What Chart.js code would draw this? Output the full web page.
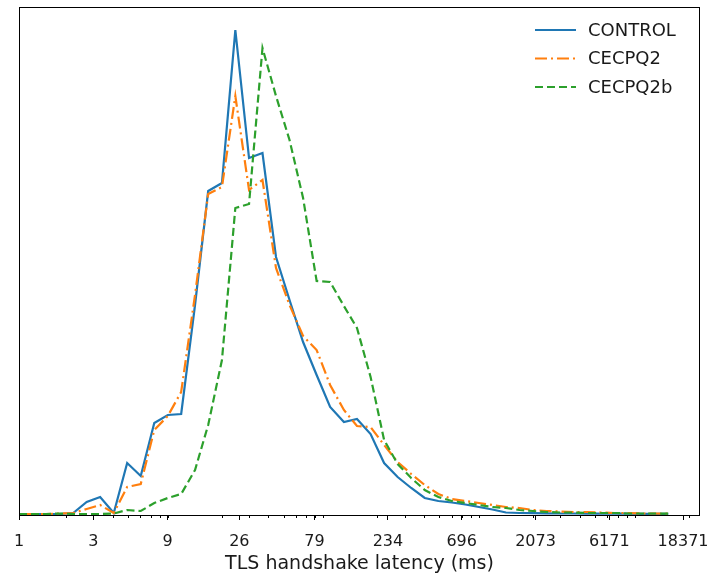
<!DOCTYPE html>
<html>
<head>
<meta charset="utf-8">
<script src="https://cdn.jsdelivr.net/npm/chart.js@4.4.1/dist/chart.umd.min.js"></script>
<style>
  html, body { margin: 0; padding: 0; background: #fff; }
  #wrap { width: 714px; height: 577px; }
</style>
</head>
<body>
<div id="wrap"><canvas id="latency-chart"></canvas></div>
<script>
// Histogram bin centres (ms), log-spaced
const binCentres = [1.00, 1.22, 1.49, 1.82, 2.23, 2.72, 3.32, 4.06, 4.95, 6.05,
    7.39, 9.03, 11.0, 13.5, 16.4, 20.1, 24.5, 30.0, 36.6, 44.7,
    54.6, 66.7, 81.5, 99.5, 122, 148, 181, 221, 270, 330,
    403, 493, 602, 735, 898, 1097, 1339, 1636, 1998, 2441,
    2981, 3641, 4447, 5432, 6634, 8103, 9897, 12088, 14765];

// Relative frequency per bin (arbitrary units)
const control = [0, 0, 0, 0, 1, 12, 17, 1, 51, 38,
    91, 99, 100, 209, 323, 331, 484, 356, 361, 257,
    214, 172, 139, 107, 92, 95, 80, 51, 37, 26,
    16, 13, 11.5, 9.5, 7, 4.5, 1.5, 1, 0.8, 0.6,
    0.5, 0.5, 0.4, 0.4, 0.3, 0.3, 0.2, 0.2, 0.1];

const cecpq2 = [0, 0, 0, 0.5, 1, 5, 9, 1, 27, 30,
    84, 98, 122, 219, 320, 327, 418, 324, 334, 246,
    209, 178, 164, 129, 104, 88, 87, 69, 52, 40,
    29, 20, 15, 13, 11, 9, 7, 6, 4, 3,
    2.5, 2, 2, 1.5, 1, 1, 0.5, 0.5, 0.3];

const cecpq2b = [0, 0, 0, 0.5, 0, 0, 0, 0.5, 4, 3,
    11, 16, 20, 44, 89, 154, 306, 310, 466, 418,
    374, 316, 233, 232, 208, 186, 137, 74, 50, 36,
    24, 17, 13, 11, 9, 7, 6, 4, 3, 2,
    1.5, 1.5, 1, 1, 1, 0.5, 0.5, 0.5, 0.3];

const tickValues = [1, 3, 9, 26, 79, 234, 696, 2073, 6171, 18371];

const FONT = "'DejaVu Sans', 'Liberation Sans', sans-serif";
const TEXT = '#1a1a1a';

Chart.defaults.font.family = FONT;
Chart.defaults.color = TEXT;

function toPoints(values) {
    return values.map((v, i) => ({ x: binCentres[i], y: v }));
}

// frame, minor ticks and the in-plot legend (matplotlib style)
const mplDecor = {
    id: 'mplDecor',
    afterDraw(chart) {
        const { ctx, chartArea: a, scales: { x } } = chart;
        ctx.save();

        // minor ticks at 2..9 x 10^n
        ctx.strokeStyle = '#000';
        ctx.lineWidth = 1;
        ctx.beginPath();
        for (let p = 1; p <= 10000; p *= 10) {
            for (let m = 2; m <= 9; m++) {
                const v = m * p;
                if (v > x.max) continue;
                const px = Math.round(x.getPixelForValue(v)) + 0.5;
                ctx.moveTo(px, a.bottom);
                ctx.lineTo(px, a.bottom + 3);
            }
        }
        ctx.stroke();

        // spines
        ctx.strokeRect(Math.round(a.left) + 0.5, Math.round(a.top) + 0.5,
            Math.round(a.right - a.left) - 1, Math.round(a.bottom - a.top));

        // legend
        const x0 = a.right - 165, x1 = x0 + 41, tx = x1 + 12;
        ctx.font = '18px ' + FONT;
        ctx.textBaseline = 'middle';
        chart.data.datasets.forEach((ds, i) => {
            const y = a.top + 23 + i * 28.5;
            ctx.strokeStyle = ds.borderColor;
            ctx.lineWidth = ds.borderWidth;
            ctx.setLineDash(ds.borderDash || []);
            ctx.beginPath();
            ctx.moveTo(x0, y);
            ctx.lineTo(x1, y);
            ctx.stroke();
            ctx.setLineDash([]);
            ctx.fillStyle = TEXT;
            ctx.fillText(ds.label, tx, y + 1);
        });
        ctx.restore();
    }
};

new Chart(document.getElementById('latency-chart'), {
    type: 'line',
    data: {
        datasets: [{
            label: 'CONTROL',
            data: toPoints(control),
            borderColor: '#1f77b4',
            borderWidth: 2.2,
            order: 3
        }, {
            label: 'CECPQ2',
            data: toPoints(cecpq2),
            borderColor: '#ff7f0e',
            borderWidth: 2.2,
            borderDash: [12, 4, 2, 4],
            order: 2
        }, {
            label: 'CECPQ2b',
            data: toPoints(cecpq2b),
            borderColor: '#2ca02c',
            borderWidth: 2.2,
            borderDash: [8, 4],
            order: 1
        }]
    },
    options: {
        responsive: true,
        maintainAspectRatio: false,
        animation: false,
        elements: {
            point: { radius: 0 },
            line: { tension: 0, fill: false, borderCapStyle: 'butt' }
        },
        layout: {
            padding: { top: 7, left: 19, right: 14, bottom: 2 }
        },
        plugins: {
            legend: { display: false },
            tooltip: { enabled: false },
            title: { display: false }
        },
        scales: {
            x: {
                type: 'logarithmic',
                min: 1,
                max: 23600,
                afterBuildTicks: (axis) => {
                    axis.ticks = tickValues.map(v => ({ value: v }));
                },
                // labels may overhang the plot edges, like matplotlib
                afterFit: (axis) => {
                    axis.paddingLeft = 0;
                    axis.paddingRight = 0;
                    axis.height = 60;
                },
                ticks: {
                    autoSkip: false,
                    maxRotation: 0,
                    padding: 12,
                    color: TEXT,
                    font: { size: 16 },
                    callback: (value) => String(value)
                },
                grid: {
                    display: true,
                    drawOnChartArea: false,
                    tickLength: 5,
                    tickColor: '#000'
                },
                border: { display: false },
                title: {
                    display: true,
                    text: 'TLS handshake latency (ms)',
                    color: TEXT,
                    font: { size: 19 },
                    padding: { top: 1, bottom: 0 }
                }
            },
            y: {
                display: false,
                min: -1,
                max: 507
            }
        }
    },
    plugins: [mplDecor]
});
</script>
</body>
</html>
